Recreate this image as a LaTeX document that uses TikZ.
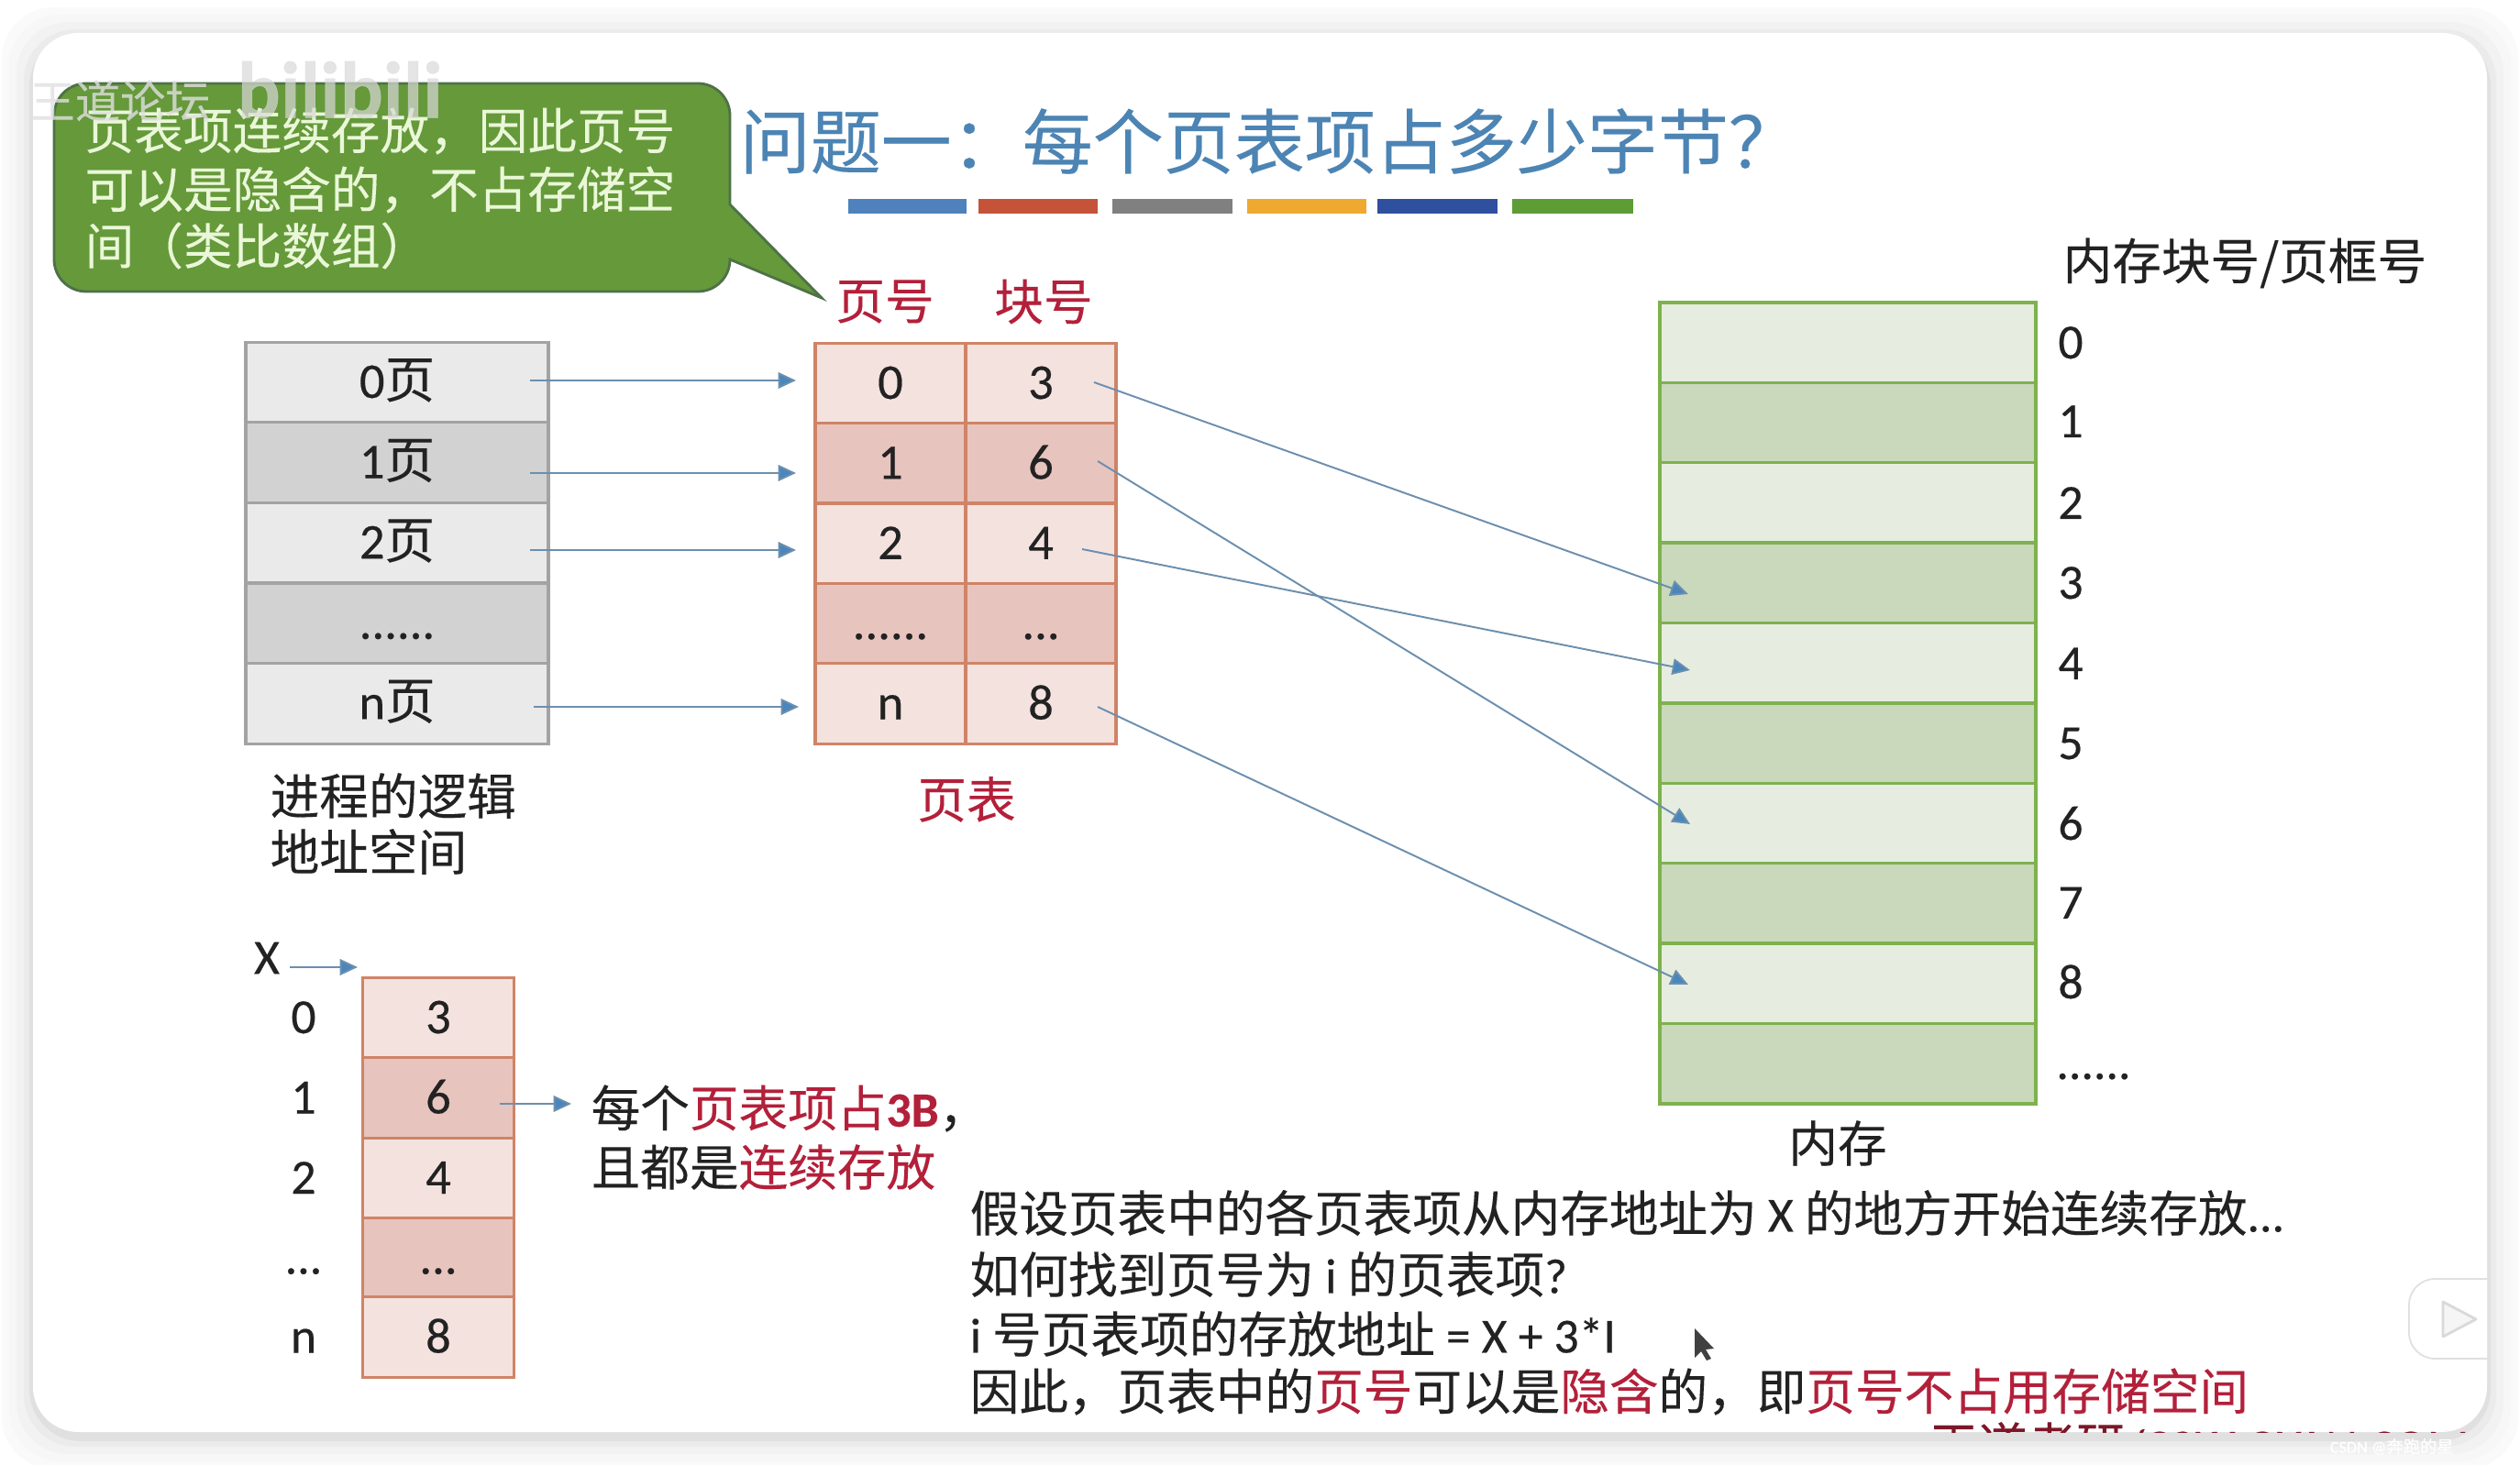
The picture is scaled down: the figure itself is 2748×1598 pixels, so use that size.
\documentclass[tikz,border=0pt]{standalone}
\usepackage{fontspec}
\setmainfont[FakeBold=0.35]{Carlito}
\newfontfamily\cjkf[FakeBold=0.2]{Noto Sans CJK SC}
\newcommand{\zh}[1]{{\cjkf #1}}
\newcommand{\dotssix}{......}
\newcommand{\dotsthree}{...}
\usetikzlibrary{arrows.meta}
\definecolor{inkc}{HTML}{222222}
\definecolor{redc}{HTML}{B3203A}
\definecolor{bluec}{HTML}{4C84B4}
\definecolor{arrc}{HTML}{6C8FAE}
\definecolor{tipc}{HTML}{4A86BC}
\definecolor{calloutc}{HTML}{65993A}
\definecolor{calloutl}{HTML}{4E7148}
\definecolor{calloutt}{HTML}{EAF7D8}
\definecolor{grayL}{HTML}{EAEAEA}
\definecolor{grayD}{HTML}{D2D2D2}
\definecolor{grayE}{HTML}{A3A3A3}
\definecolor{pinkL}{HTML}{F4E2DF}
\definecolor{pinkD}{HTML}{E8C4BE}
\definecolor{pinkE}{HTML}{CF8467}
\definecolor{greenL}{HTML}{E6EDE0}
\definecolor{greenD}{HTML}{CAD8BC}
\definecolor{greenE}{HTML}{7DB24E}
\tikzset{
 cell/.style={draw,line width=0.95pt,minimum height=87.6*0.01cm,inner sep=0pt,font=\fontsize{15.5}{18}\selectfont,text=inkc,text height=34*0.01cm,text depth=0pt},
 gcell/.style={cell,draw=grayE,minimum width=330*0.01cm},
 pcell/.style={cell,draw=pinkE,minimum width=164*0.01cm},
 mcell/.style={cell,draw=greenE,minimum width=410*0.01cm},
 lab/.style={inner sep=0pt,font=\fontsize{15.25}{18}\selectfont,text=inkc},
 numl/.style={lab,text height=34*0.01cm,text depth=0pt},
 lbl/.style={lab,anchor=west},
 clab/.style={lbl,text=calloutt},
 link/.style={draw=arrc,line width=0.55pt,-{Triangle[length=5.5pt,width=5pt,fill=tipc]}},
}
\begin{document}
\begin{tikzpicture}[x=0.01cm,y=-0.01cm]
\useasboundingbox (0,0) rectangle (2748,1598);
% window and soft shadow
\fill[white] (0,0) rectangle (2748,1598);
\foreach \d/\g in {34/2,26/3,18/5,10/8,4/12}{
  \fill[black!\g,rounded corners=16pt] (36-\d,36-\d+6) rectangle (2712+\d,1562+\d+6);
}
\fill[white,rounded corners=14pt] (36,36) rectangle (2712,1562);
% title and colour bars
\node[lab,anchor=west,text=bluec,font=\fontsize{21.9}{24}\selectfont] (title) at (806,154) {\zh{问题一：每个页表项占多少字节？}};
\foreach \a/\b/\cc in {925/1054/4F81BD,1067/1197/C5533A,1213/1344/808080,1360/1490/EFA92F,1502/1633/2F4F9F,1649/1781/5E9C35}{
  \definecolor{barc}{HTML}{\cc}
  \fill[barc] (\a,217) rectangle (\b,233);
}
% callout
\path[fill=calloutc,draw=calloutl,line width=0.8pt]
  (94,91) -- (761,91) arc[start angle=-90,end angle=0,radius=35]
  -- (796,223) -- (896,325) -- (796,283)
  arc[start angle=0,end angle=90,radius=35] -- (94,318)
  arc[start angle=90,end angle=180,radius=35] -- (59,126)
  arc[start angle=180,end angle=270,radius=35] -- cycle;
\node[clab] (c1) at (92,143) {\zh{页表项连续存放，因此页号}};
\node[clab] (c2) at (92,207) {\zh{可以是隐含的，不占存储空}};
\node[clab] (c3) at (92,268) {\zh{间（类比数组）}};
% logical address space
\node[gcell,fill=grayL] (l0) at (433,417) {0\zh{页}};
\node[gcell,fill=grayD] (l1) at (433,504.6) {1\zh{页}};
\node[gcell,fill=grayL] (l2) at (433,592.2) {2\zh{页}};
\node[gcell,fill=grayD] (l3) at (433,679.8) {\dotssix};
\node[gcell,fill=grayL] (l4) at (433,767.4) {n\zh{页}};
\node[lbl] (la1) at (294,868) {\zh{进程的逻辑}};
\node[lbl] (la2) at (294,929) {\zh{地址空间}};
% page table
\node[lab,text=redc] (h1) at (965,329) {\zh{页号}};
\node[lab,text=redc] (h2) at (1138,329) {\zh{块号}};
\foreach \r/\y/\f/\a/\b in {0/418/pinkL/0/3,1/505.4/pinkD/1/6,2/592.8/pinkL/2/4,3/680.2/pinkD/\dotssix/\dotsthree,4/767.6/pinkL/n/8}{
  \node[pcell,fill=\f] (pa\r) at (971,\y) {\a};
  \node[pcell,fill=\f] (pb\r) at (1135,\y) {\b};
}
\node[lab,text=redc] (pt) at (1054,872) {\zh{页表}};
% memory
\node[lab,anchor=west] (mh) at (2249,287) {\zh{内存块号/页框号}};
\foreach \r/\y/\f in {0/373.7/greenL,1/461.1/greenD,2/548.5/greenL,3/635.9/greenD,4/723.3/greenL,5/810.7/greenD,6/898.1/greenL,7/985.5/greenD,8/1072.9/greenL,9/1160.3/greenD}{
  \node[mcell,fill=\f] (m\r) at (2015,\y) {};
}
\foreach \r/\y/\t in {0/374/0,1/460/1,2/549/2,3/636/3,4/724/4,5/811/5,6/899/6,7/985/7,8/1072/8}{
  \node[numl] (mn\r) at (2258,\y) {\t};
}
\node[numl] (mn9) at (2283,1160) {\dotssix};
\node[lab] (ml) at (2004,1247) {\zh{内存}};
% arrows logical -> page table
\coordinate (a0) at (578,415); \coordinate (b0) at (868,415);
\coordinate (a1) at (578,516); \coordinate (b1) at (868,516);
\coordinate (a2) at (578,600); \coordinate (b2) at (868,600);
\coordinate (a4) at (582,771); \coordinate (b4) at (871,771);
\draw[link] (a0) -- (b0);
\draw[link] (a1) -- (b1);
\draw[link] (a2) -- (b2);
\draw[link] (a4) -- (b4);
% arrows page table -> memory
\coordinate (s0) at (1193,417); \coordinate (t0) at (1841,648);
\coordinate (s1) at (1197,503); \coordinate (t1) at (1843,899);
\coordinate (s2) at (1180,599); \coordinate (t2) at (1843,731);
\coordinate (s4) at (1197,771); \coordinate (t4) at (1841,1074);
\draw[link] (s0) -- (t0);
\draw[link] (s1) -- (t1);
\draw[link] (s2) -- (t2);
\draw[link] (s4) -- (t4);
% contiguous table
\node[lab] (xl) at (291,1045) {X};
\foreach \r/\y/\f/\a/\b in {0/1110/pinkL/0/3,1/1197.5/pinkD/1/6,2/1285/pinkL/2/4,3/1372.5/pinkD/\dotsthree/\dotsthree,4/1458.5/pinkL/n/8}{
  \node[pcell,fill=\f,minimum width=165*0.01cm] (q\r) at (478,\y) {\b};
  \node[numl] (qi\r) at (331,\y) {\a};
}
\coordinate (xs) at (316,1055); \coordinate (xe) at (390,1055);
\draw[link] (xs) -- (xe);
\coordinate (qs) at (545,1204); \coordinate (qe) at (623,1204);
\draw[link] (qs) -- (qe);
\node[lbl] (q1) at (644,1209) {\zh{每个}\textcolor{redc}{\zh{页表项占}\textbf{3B}}\zh{，}};
\node[lbl] (q2) at (644,1273) {\zh{且都是}\textcolor{redc}{\zh{连续存放}}};
% paragraph
\node[lbl] (t1n) at (1057,1323) {\zh{假设页表中的各页表项从内存地址为} X \zh{的地方开始连续存放}...};
\node[lbl] (t2n) at (1057,1390) {\zh{如何找到页号为} i \zh{的页表项}?};
\node[lbl] (t3n) at (1057,1455) {i \zh{号页表项的存放地址} = X + 3*I};
\node[lbl] (t4n) at (1057,1518) {\zh{因此，页表中的}\textcolor{redc}{\zh{页号}}\zh{可以是}\textcolor{redc}{\zh{隐含}}\zh{的，即}\textcolor{redc}{\zh{页号不占用存储空间}}};
% cursor
\fill[black!75] (1848,1449) -- (1848,1481) -- (1855,1474) -- (1861,1484) -- (1866,1482) -- (1860,1472) -- (1869,1471) -- cycle;
% watermark residues
\node[lbl,text=black!12,opacity=.8,font=\fontsize{14}{16}\selectfont] (wm1) at (32,110) {\zh{王道论坛}};
\node[lbl,text=black!15,opacity=.7,font=\fontsize{25}{27}\bfseries\selectfont] (wm2) at (258,98) {bilibili};
\begin{scope}
  \clip (2040,1500) rectangle (2690,1562);
  \node[lbl,text=redc!70!black,font=\fontsize{15.2}{18}\selectfont] (wm3) at (2103,1576) {\zh{王道考研}/CSKAOYAN.COM};
\end{scope}
\node[lbl,text=white,font=\fontsize{5.2}{6}\selectfont] (wm4) at (2540,1578) {CSDN @\zh{奔跑的星}};
% play badge
\draw[white,line width=3pt,line cap=round] (2660,1395) -- (2650,1382) (2680,1395) -- (2690,1382);
\fill[white,draw=black!12,line width=0.5pt,rounded corners=8pt] (2712,1395) -- (2627,1395) -- (2627,1482) -- (2712,1482);
\draw[fill=black!4,draw=black!15,line width=0.8pt,line join=round] (2664,1420) -- (2700,1439) -- (2664,1458) -- cycle;
\end{tikzpicture}
\end{document}
